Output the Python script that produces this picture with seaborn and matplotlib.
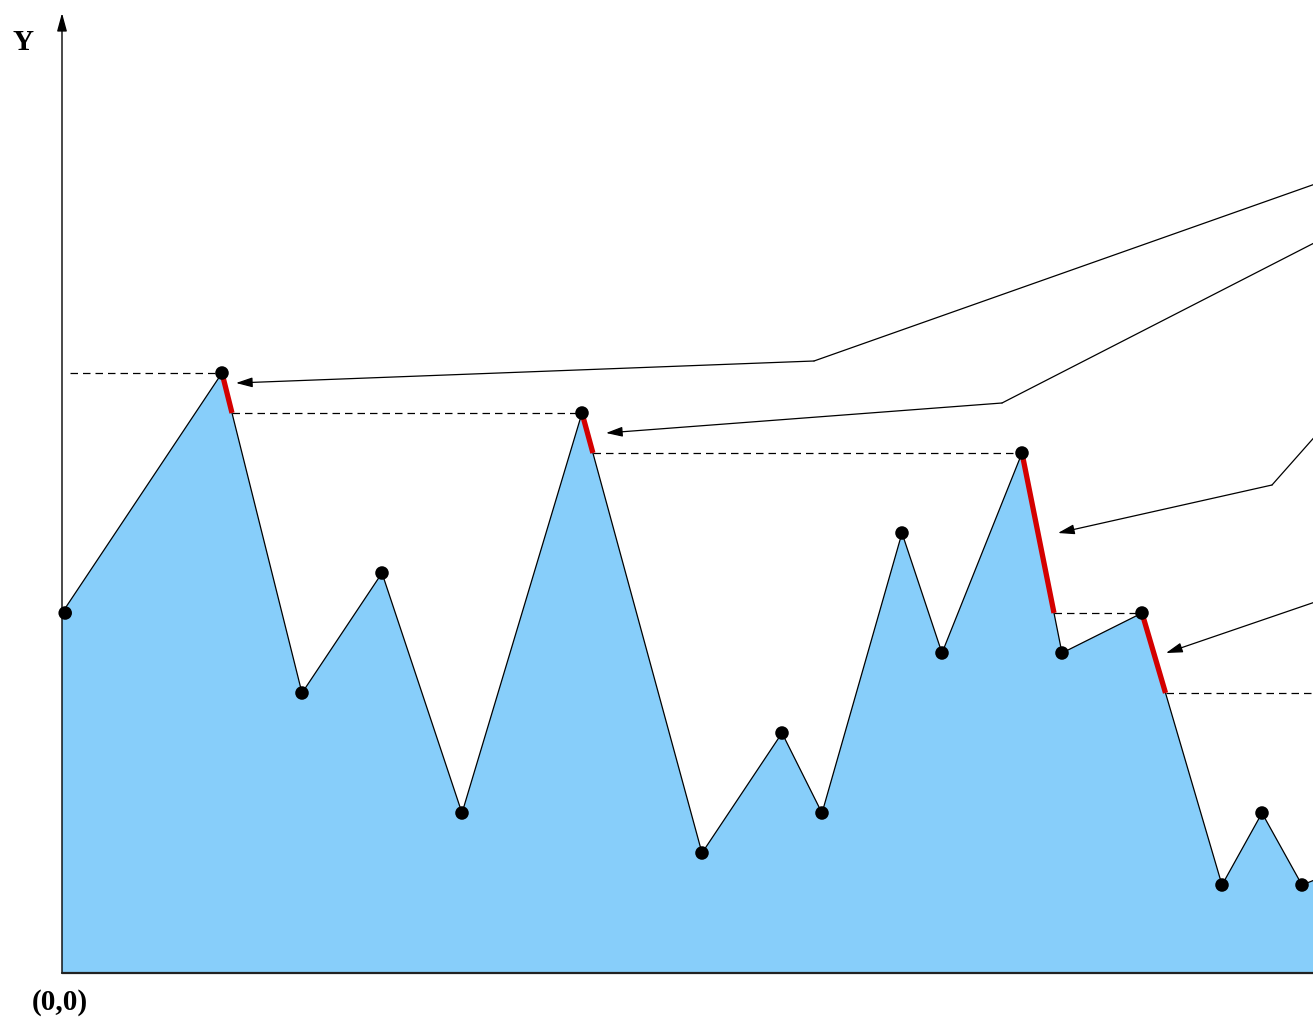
import numpy as np
import matplotlib.pyplot as plt
import seaborn as sns

# profile points (grid units, origin at (0,0))
xs = [0, 4, 6, 8, 10, 13, 16, 18, 19, 21, 22, 24, 25, 27, 29, 30, 31, 33]
ys = [9, 15, 7, 10, 4, 14, 3, 6, 4, 11, 8, 13, 8, 9, 2.2, 4, 2.2, 3]

# peaks that get a red segment, and the level each one drops to
peak_idx = [1, 5, 11, 13]
drop_levels = [14, 13, 9, 7]

# leader lines (from right edge to arrow tip)
leaders = [
    [(31.4, 19.75), (18.8, 15.3), (4.35, 14.75)],
    [(31.4, 18.3), (23.5, 14.25), (13.6, 13.5)],
    [(31.4, 13.5), (30.25, 12.2), (24.9, 11.0)],
    [(31.4, 9.3), (27.6, 8.0)],
]

sns.set_style("white")
plt.rcParams['font.family'] = ['Liberation Serif', 'DejaVu Serif']

fig = plt.figure(figsize=(13.13, 10.19), dpi=100)
ax = fig.add_axes([0, 0, 1, 1])
ax.set_xlim(-1.55, 31.275)
ax.set_ylim(-1.15, 24.325)
ax.axis("off")

ax.fill_between(xs, ys, 0, color="#87CEFA", lw=0, zorder=1)
sns.lineplot(x=xs, y=ys, ax=ax, color="black", lw=0.9, sort=False, zorder=3)
sns.scatterplot(x=[x + 0.08 if x == 0 else x for x in xs[:-1]], y=ys[:-1], ax=ax,
                color="black", s=95, edgecolor="none", zorder=5)

# where the descending edge after each peak reaches its level
drop_x = []
for i, lvl in zip(peak_idx, drop_levels):
    x0, y0, x1, y1 = xs[i], ys[i], xs[i + 1], ys[i + 1]
    drop_x.append(x0 + (x1 - x0) * (y0 - lvl) / (y0 - y1))

for i, lvl, dx in zip(peak_idx, drop_levels, drop_x):
    ax.plot([xs[i], dx], [ys[i], lvl], color="#D40000", lw=3.8, solid_capstyle="butt", zorder=4)

# dashed levels
dash = dict(color="black", lw=0.9, ls=(0, (6, 4)), zorder=2)
ax.plot([0.2, xs[1]], [ys[1], ys[1]], **dash)
starts = drop_x
ends = [xs[i] for i in peak_idx[1:]] + [31.5]
for s0, e0, lvl in zip(starts, ends, drop_levels):
    ax.plot([s0, e0], [lvl, lvl], **dash)

# leader lines with arrow heads
for path in leaders:
    px = [p[0] for p in path]
    py = [p[1] for p in path]
    ax.plot(px[:-1], py[:-1], color="black", lw=0.9, zorder=2)
    ax.annotate("", xy=path[-1], xytext=path[-2],
                arrowprops=dict(arrowstyle="-|>,head_length=1.0,head_width=0.3",
                                color="black", lw=0.9, shrinkA=0, shrinkB=0))

# axes
ax.plot([0, 31.5], [0, 0], color="#222222", lw=1.6, zorder=6)
ax.annotate("", xy=(0, 24.0), xytext=(0, 0),
            arrowprops=dict(arrowstyle="-|>,head_length=1.1,head_width=0.3",
                            color="black", lw=1.0, shrinkA=0, shrinkB=0))
ax.text(-0.98, 23.27, "Y", fontsize=21, fontweight="bold", color="black",
        ha="center", va="center")
ax.text(-0.05, -0.75, "(0,0)", fontsize=21, fontweight="bold", color="black",
        ha="center", va="center")

fig.savefig("out.png", dpi=100)
